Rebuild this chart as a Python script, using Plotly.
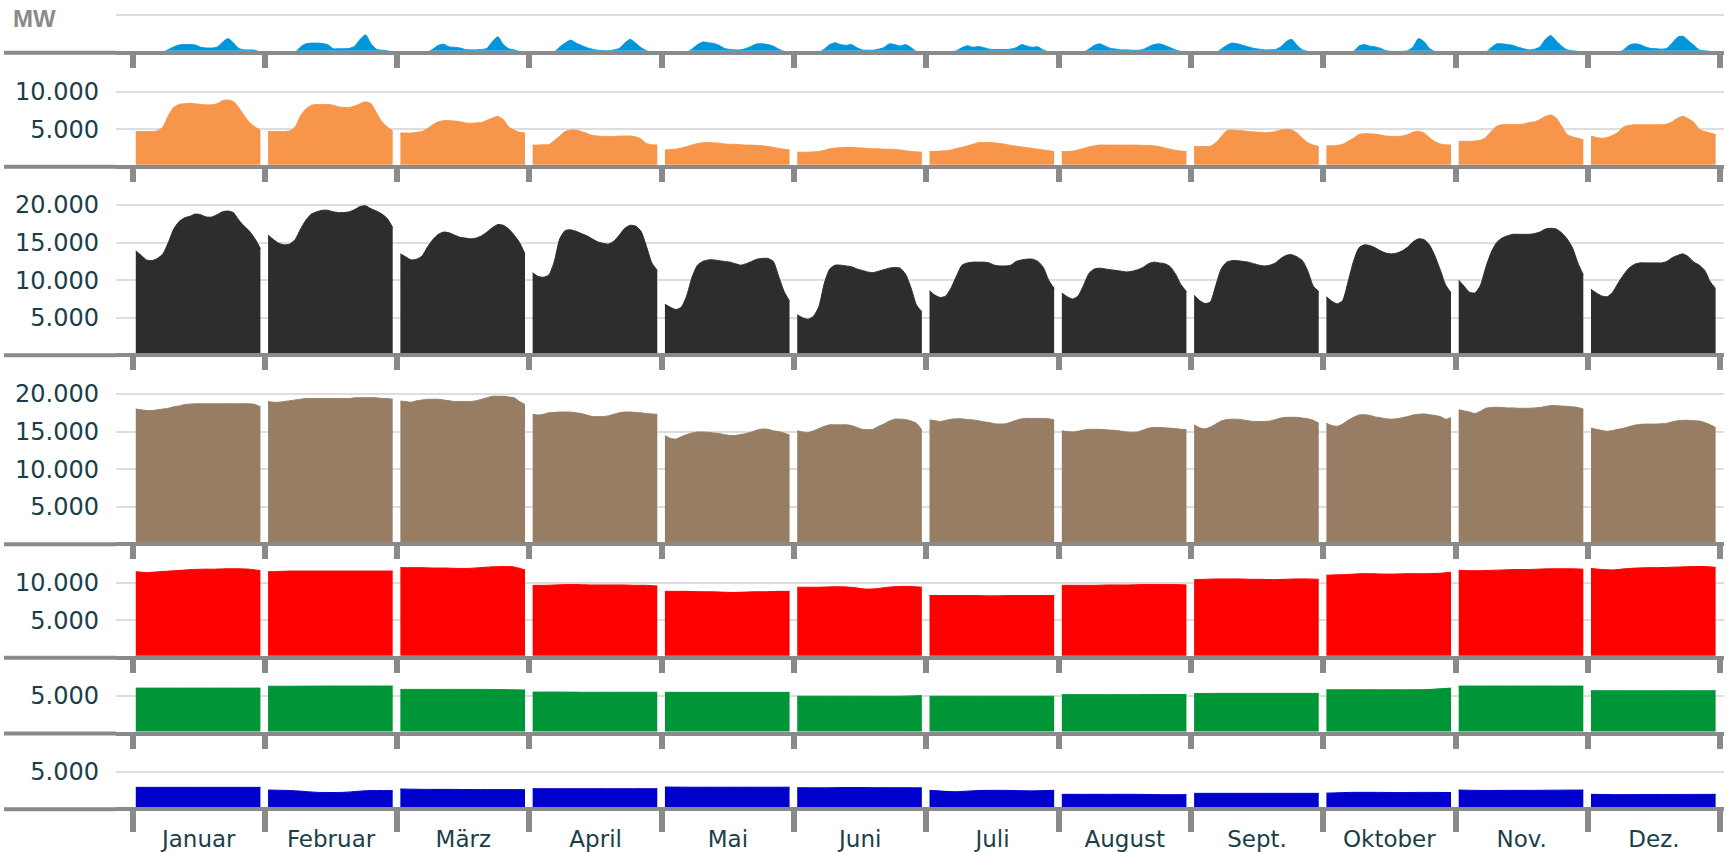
import plotly.graph_objects as go

# ---------------- data (MW) ----------------
months = ["Januar", "Februar", "März", "April", "Mai", "Juni",
          "Juli", "August", "Sept.", "Oktober", "Nov.", "Dez."]

# hourly profiles (24 values per month)
pumpspeicher = [
    [0,0,0,0,0,50,450,800,1050,1100,1100,1050,750,650,650,750,1400,1900,1350,600,400,400,350,100],
    [0,0,0,0,0,100,800,1200,1300,1300,1250,1100,550,550,550,600,900,1800,2400,1200,500,350,300,100],
    [0,0,0,0,0,100,500,1000,1150,800,750,650,450,400,400,450,600,1500,2150,1100,550,400,200,100],
    [0,0,0,0,100,800,1300,1700,1300,1000,700,500,350,300,300,400,600,1300,1800,1300,700,300,100,50],
    [0,0,0,0,100,500,1100,1450,1350,1250,1000,600,450,400,400,600,900,1200,1200,1100,900,500,200,50],
    [0,0,0,0,100,500,1100,1350,1100,1000,1100,700,400,350,350,500,700,1200,1100,900,1100,700,200,50],
    [0,0,0,0,100,300,700,950,750,850,700,500,450,450,450,500,700,1100,900,750,800,400,150,50],
    [0,0,0,0,100,500,1000,1200,900,600,500,400,400,350,350,450,800,1100,1200,1000,700,400,200,100],
    [0,0,0,0,0,500,1000,1300,1200,1000,800,600,500,400,400,450,800,1500,1800,1000,400,200,100,0],
    [0,0,0,0,0,200,900,1100,900,800,600,300,200,200,200,300,800,1900,1500,600,200,100,50,0],
    [0,0,0,0,0,100,700,1200,1200,1100,1000,750,550,400,500,800,1800,2300,1600,900,400,300,200,0],
    [0,0,0,0,0,0,400,1000,1200,1100,800,600,550,500,600,1300,2100,2200,1600,1000,400,300,200,100],
]

erdgas = [
    [4700,4700,4700,4700,4800,5300,6800,7900,8300,8400,8450,8400,8300,8250,8250,8400,8800,8900,8700,7900,6800,5900,5300,4900],
    [4700,4700,4700,4700,4800,5300,6800,7700,8200,8300,8300,8300,8200,8000,7900,7900,8100,8400,8650,8400,7200,6000,5300,4800],
    [4500,4500,4500,4600,4700,5100,5600,6000,6150,6150,6100,6000,5850,5800,5850,5900,6200,6500,6700,6300,5300,4900,4600,4500],
    [2900,2900,2950,2950,3500,4100,4700,4900,4900,4700,4450,4200,4100,4050,4050,4050,4100,4100,4100,4000,3700,3100,2950,2900],
    [2250,2300,2350,2500,2700,2900,3100,3200,3250,3200,3150,3050,3000,3000,2950,2900,2900,2850,2800,2700,2600,2450,2350,2250],
    [1950,1950,1950,2000,2050,2200,2400,2500,2550,2600,2600,2550,2500,2450,2400,2400,2350,2350,2300,2250,2150,2050,2000,1950],
    [2050,2050,2100,2150,2250,2450,2600,2800,3000,3200,3250,3250,3200,3100,3000,2850,2750,2650,2550,2450,2350,2250,2150,2050],
    [2050,2050,2100,2250,2450,2650,2800,2900,2900,2900,2900,2900,2900,2900,2900,2850,2850,2800,2700,2500,2350,2200,2100,2050],
    [2700,2700,2700,2750,3200,4000,4800,4900,4850,4800,4700,4650,4600,4550,4600,4700,4900,5000,4900,4500,3800,3200,2900,2700],
    [2800,2800,2850,3000,3400,3800,4300,4400,4400,4350,4250,4100,4050,4050,4100,4300,4600,4750,4500,3900,3350,3050,2950,2900],
    [3400,3400,3400,3450,3550,3900,4700,5400,5600,5650,5650,5650,5700,5900,6000,6300,6700,6900,6500,5400,4300,4000,3800,3600],
    [4100,3900,3800,3900,4200,4600,5300,5500,5600,5600,5600,5600,5600,5600,5700,6000,6500,6700,6400,5900,5000,4700,4500,4300],
]

steinkohle = [
    [13900,13300,12700,12600,12900,13500,15000,16800,17800,18300,18500,18800,18700,18400,18400,18700,19100,19200,19000,18000,17200,16500,15500,14200],
    [16000,15400,14900,14700,14800,15400,16800,18000,18800,19100,19300,19300,19100,19000,19000,19100,19400,19800,19900,19500,19200,18800,18200,17000],
    [13500,13100,12700,12800,13200,14400,15400,16100,16400,16300,16000,15700,15600,15500,15600,15900,16400,17000,17400,17300,16800,16000,15000,13500],
    [11000,10500,10400,10700,12500,15500,16600,16700,16500,16200,15900,15500,15100,14900,14800,15200,16000,16900,17300,17200,16500,14500,12300,11300],
    [6800,6400,6100,6400,7900,10400,12000,12500,12700,12700,12600,12500,12400,12200,12000,12200,12500,12800,12900,12900,12500,10500,8500,7200],
    [5400,5000,4800,5200,6500,9600,11500,12000,12000,11900,11800,11500,11300,11100,11000,11200,11400,11600,11700,11600,10800,9000,6700,5800],
    [8600,8000,7700,7900,9000,10600,12000,12300,12400,12400,12400,12300,12000,11900,11900,12000,12500,12700,12800,12800,12500,11700,10000,8900],
    [8300,7800,7500,7900,9300,10900,11500,11600,11500,11400,11300,11200,11100,11200,11400,11700,12200,12400,12300,12200,11800,10800,9400,8500],
    [8000,7300,6900,7100,9300,11500,12400,12600,12600,12500,12400,12200,12000,11900,12000,12300,12900,13300,13400,13100,12600,11200,9200,8500],
    [7800,7200,6850,7300,9800,12500,14300,14700,14600,14300,13900,13600,13500,13600,13900,14400,15100,15500,15400,14700,13300,11400,9400,8300],
    [10000,9200,8400,8300,9300,11700,13700,15000,15600,15900,16100,16100,16100,16100,16200,16400,16800,16900,16800,16300,15500,14300,12300,10700],
    [8800,8300,7900,7800,8400,9600,10700,11600,12100,12300,12300,12300,12300,12300,12500,13000,13300,13500,13100,12400,12000,11300,9800,8900],
]

braunkohle = [
    [18000,17900,17800,17800,17900,18000,18100,18300,18400,18600,18650,18700,18700,18700,18700,18700,18700,18700,18700,18700,18700,18700,18600,18300],
    [19000,18900,18900,19000,19100,19200,19300,19400,19400,19400,19400,19400,19400,19400,19400,19400,19500,19500,19500,19500,19500,19400,19400,19300],
    [19050,19000,18900,19100,19200,19300,19300,19300,19200,19100,19000,19000,19000,19000,19100,19300,19500,19700,19700,19700,19600,19500,19000,18600],
    [17300,17200,17300,17500,17550,17600,17600,17600,17500,17400,17200,17000,17000,17000,17100,17300,17500,17600,17600,17550,17500,17400,17350,17300],
    [14450,14100,14000,14300,14600,14800,14950,14950,14900,14800,14750,14600,14500,14500,14600,14750,14950,15200,15350,15300,15100,15000,14800,14550],
    [15100,14950,14850,15100,15400,15700,15900,15900,15900,15900,15800,15550,15300,15250,15300,15700,16000,16400,16650,16650,16600,16400,16100,15200],
    [16550,16450,16350,16500,16650,16700,16700,16600,16550,16450,16300,16200,16050,16000,16050,16250,16500,16700,16750,16750,16750,16750,16700,16550],
    [15100,15000,14950,15050,15200,15300,15300,15300,15250,15200,15150,15050,14950,14900,14950,15200,15450,15550,15550,15500,15450,15400,15300,15250],
    [15900,15500,15350,15600,16000,16400,16600,16650,16650,16550,16450,16350,16350,16350,16400,16600,16800,16900,16900,16900,16800,16700,16500,16100],
    [16100,15800,15700,16000,16500,16900,17200,17250,17150,16950,16850,16700,16650,16700,16850,17000,17200,17300,17350,17250,17150,17000,16650,16850],
    [17900,17750,17600,17400,17700,18100,18200,18250,18200,18150,18150,18100,18100,18100,18150,18200,18350,18450,18450,18400,18350,18300,18200,18000],
    [15450,15300,15150,15050,15150,15300,15450,15650,15850,15950,16000,16000,16000,16050,16100,16300,16450,16500,16500,16450,16400,16200,15900,15550],
]

# nearly flat profiles (fewer sample points across the day)
kernenergie = [
    [11450,11350,11450,11550,11650,11750,11800,11800,11850,11850,11800,11600],
    [11450,11500,11550,11550,11550,11550,11550,11550,11550,11550,11550,11550],
    [12000,12000,12000,11950,11950,11900,11900,12000,12100,12150,12100,11700],
    [9650,9650,9700,9750,9750,9700,9700,9700,9700,9650,9650,9550],
    [8850,8850,8850,8800,8800,8750,8700,8750,8800,8800,8850,8850],
    [9400,9400,9400,9450,9450,9350,9150,9200,9400,9500,9500,9400],
    [8300,8300,8300,8300,8300,8250,8250,8300,8300,8300,8300,8300],
    [9650,9650,9650,9650,9700,9700,9700,9750,9750,9750,9750,9700],
    [10400,10450,10500,10500,10500,10450,10450,10400,10450,10500,10500,10450],
    [11000,11050,11100,11200,11200,11150,11150,11200,11200,11200,11250,11400],
    [11650,11600,11600,11650,11700,11750,11750,11800,11850,11850,11850,11800],
    [11900,11750,11700,11850,11950,12000,12000,12050,12100,12150,12150,12050],
]

biomasse = [
    [6050,6050,6050,6050,6050,6050],
    [6300,6300,6320,6320,6320,6320],
    [5880,5880,5880,5880,5860,5800],
    [5520,5520,5500,5500,5500,5500],
    [5490,5490,5490,5490,5490,5490],
    [4960,4960,4960,4960,4960,5050],
    [4960,4960,4960,4960,4960,4960],
    [5180,5180,5180,5180,5200,5200],
    [5330,5350,5350,5350,5350,5350],
    [5820,5830,5830,5830,5850,6050],
    [6320,6320,6320,6320,6320,6320],
    [5700,5700,5700,5700,5700,5700],
]

laufwasser = [
    [2920,2920,2920,2920,2920,2920],
    [2560,2480,2250,2250,2480,2480],
    [2700,2650,2650,2620,2620,2610],
    [2740,2740,2740,2740,2740,2740],
    [2960,2940,2940,2940,2940,2940],
    [2870,2850,2900,2880,2870,2850],
    [2520,2340,2500,2520,2450,2520],
    [1990,1990,1990,1990,1950,1950],
    [2120,2120,2120,2120,2120,2120],
    [2150,2250,2250,2230,2250,2230],
    [2560,2500,2520,2520,2550,2560],
    [1990,1950,1960,1970,1980,1990],
]

y_tickvals = [
    [5000],
    [5000, 10000],
    [5000, 10000, 15000, 20000],
    [5000, 10000, 15000, 20000],
    [5000, 10000],
    [5000],
    [5000],
]

# ---------------- styling / layout ----------------
W, H = 1727, 852
PLOT_L, PLOT_R = 116, 1724
PX_PER_MW = 7.52 / 1000.0
Y_MIN = 270                    # zero line hidden under the axis line
X_RANGE = [-0.1255, 12.0295]
SPAN_START, SPAN_LEN = 0.024, 0.942

series = [pumpspeicher, erdgas, steinkohle, braunkohle, kernenergie, biomasse, laufwasser]
colors = ["#0096DB", "#F7964B", "#2D2D2D", "#977D64", "#FF0000", "#009536", "#0000CC"]
zero_px = [52.9, 166.9, 355.4, 544.4, 657.9, 733.6, 809.3]
y_max = [6300, 12300, 22300, 22300, 12700, 7200, 6200]

AXIS_GRAY = "#8A8A8A"
TEXT_COL = "#1B3F4A"
GRID_COL = "#DEDEDE"

fig = go.Figure()
layout = dict(
    width=W, height=H, autosize=False,
    margin=dict(l=PLOT_L, r=W - PLOT_R, t=0, b=0),
    paper_bgcolor="white", plot_bgcolor="white",
    showlegend=False, separators=",.",
    font=dict(family="DejaVu Sans", color=TEXT_COL, size=24),
    hovermode=False,
)

shapes = []
for p, (data, col) in enumerate(zip(series, colors)):
    n = p + 1
    xa, ya = f"x{n}", f"y{n}"
    for m, vals in enumerate(data):
        cnt = len(vals)
        xs = [m + SPAN_START + SPAN_LEN * i / (cnt - 1) for i in range(cnt)]
        fig.add_trace(go.Scatter(
            x=xs, y=vals, mode="lines", fill="tozeroy", fillcolor=col,
            line=dict(color=col, width=1, shape="spline", smoothing=0.6),
            xaxis=xa, yaxis=ya, hoverinfo="skip", showlegend=False))

    top_px = zero_px[p] - y_max[p] * PX_PER_MW
    bot_px = zero_px[p] - Y_MIN * PX_PER_MW
    layout[f"yaxis{n}"] = dict(
        domain=[1 - bot_px / H, 1 - top_px / H],
        range=[Y_MIN, y_max[p]], anchor=xa,
        tickmode="array", tickvals=y_tickvals[p], tickformat=",d",
        showticklabels=(n != 1), ticks="", showline=False, zeroline=False,
        showgrid=True, gridcolor=GRID_COL, gridwidth=2,
        tickfont=dict(family="DejaVu Sans", size=24, color=TEXT_COL),
        ticklabelstandoff=16, automargin=False, fixedrange=True,
    )
    xax = dict(
        domain=[0, 1], range=X_RANGE, anchor=ya,
        showline=True, linecolor=AXIS_GRAY, linewidth=4,
        showgrid=False, zeroline=False, automargin=False, fixedrange=True,
    )
    if n < 7:
        xax.update(tickmode="array", tickvals=list(range(13)), showticklabels=False,
                   ticks="outside", ticklen=13, tickwidth=6, tickcolor=AXIS_GRAY)
    else:
        xax.update(tickmode="array", tickvals=[m + 0.5 for m in range(12)], ticktext=months,
                   ticks="", showticklabels=True,
                   tickfont=dict(family="DejaVu Sans", size=23, color=TEXT_COL),
                   ticklabelstandoff=8,
                   minor=dict(tickmode="linear", tick0=0, dtick=1, ticks="outside",
                              ticklen=21, tickwidth=6, tickcolor=AXIS_GRAY, showgrid=False))
    if n > 1:
        xax["matches"] = "x"
    layout[f"xaxis{n}"] = xax

    # axis line continues to the left under the tick labels
    line_px = bot_px + 2
    shapes.append(dict(type="line", xref="paper", yref="paper",
                       x0=(4 - PLOT_L) / (PLOT_R - PLOT_L), x1=0,
                       y0=1 - line_px / H, y1=1 - line_px / H,
                       line=dict(color=AXIS_GRAY, width=4), layer="above"))

layout["shapes"] = shapes
layout["annotations"] = [dict(
    text="<b>MW</b>", xref="paper", yref="paper",
    x=(11 - PLOT_L) / (PLOT_R - PLOT_L), y=1 - 3 / H,
    xanchor="left", yanchor="top", showarrow=False,
    font=dict(family="Liberation Sans", size=24, color="#8A8A8A"))]

fig.update_layout(**layout)
fig.write_html("out.html", config={"displayModeBar": False, "staticPlot": True},
               post_script="document.body.style.margin='0';document.body.style.overflow='hidden';")
